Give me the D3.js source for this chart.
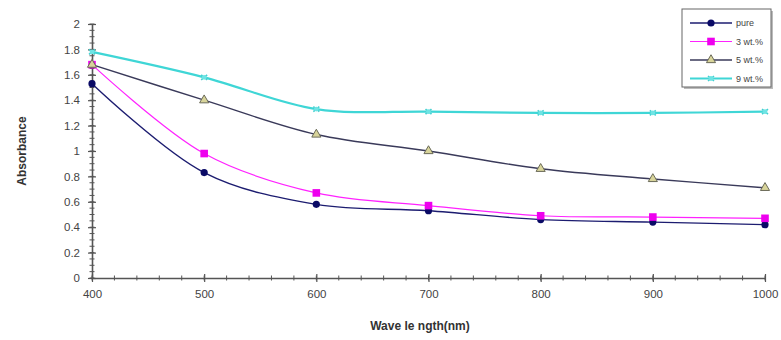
<!DOCTYPE html>
<html>
<head>
<meta charset="utf-8">
<script src="https://cdn.jsdelivr.net/npm/d3@7"></script>
<style>
  html, body { margin: 0; padding: 0; background: #fff; }
  svg { display: block; font-family: Arial, "Liberation Sans", sans-serif; }
</style>
</head>
<body>
<svg id="chart" width="781" height="340"></svg>
<script>
// Absorbance spectra for the pure film and the doped samples
const wavelengths = [400, 500, 600, 700, 800, 900, 1000];
const pure  = [1.53, 0.83, 0.58, 0.53, 0.46, 0.44, 0.42];
const wt3   = [1.68, 0.98, 0.67, 0.57, 0.49, 0.48, 0.47];
const wt5   = [1.68, 1.40, 1.13, 1.00, 0.86, 0.78, 0.71];
const wt9   = [1.78, 1.58, 1.33, 1.31, 1.30, 1.30, 1.31];
const seriesNames = ["pure", "3 wt.%", "5 wt.%", "9 wt.%"];
const xTicks = [400, 500, 600, 700, 800, 900, 1000];
const yTicks = [0, 0.2, 0.4, 0.6, 0.8, 1, 1.2, 1.4, 1.6, 1.8, 2];

const series = [
  { name: seriesNames[0], values: pure, line: "#1c1c70", width: 1.4, marker: "circle",   fill: "#0a0a66", stroke: "#0a0a66" },
  { name: seriesNames[1], values: wt3,  line: "#ff22ff", width: 1.2, marker: "square",   fill: "#ee00ee", stroke: "#ee00ee" },
  { name: seriesNames[2], values: wt5,  line: "#3a3a5a", width: 1.4, marker: "triangle", fill: "#d8d49a", stroke: "#6a6a58" },
  { name: seriesNames[3], values: wt9,  line: "#3fd6d6", width: 2.2, marker: "cross",    fill: "#6fe4e4", stroke: "#44d0d0" }
];

const svg = d3.select("#chart");
const x = d3.scaleLinear().domain([400, 1000]).range([92, 765]);
const y = d3.scaleLinear().domain([0, 2]).range([278, 24]);

// minor ticks
const axisCol = "#555";
const g = svg.append("g");
g.selectAll("line.ymin").data(d3.range(0, 2.0001, 0.05)).join("line")
  .attr("x1", x(400) - 2.5).attr("x2", x(400) + 2.5)
  .attr("y1", d => y(d)).attr("y2", d => y(d))
  .attr("stroke", axisCol).attr("stroke-width", 1);
g.selectAll("line.xmin").data(d3.range(400, 1000.001, 20)).join("line")
  .attr("x1", d => x(d)).attr("x2", d => x(d))
  .attr("y1", y(0) - 2.5).attr("y2", y(0) + 2.5)
  .attr("stroke", axisCol).attr("stroke-width", 1);

// axes
const yAxis = d3.axisLeft(y).tickValues(yTicks).tickFormat(d3.format("~g")).tickSizeInner(4).tickSizeOuter(0).tickPadding(8);
const xAxis = d3.axisBottom(x).tickValues(xTicks).tickFormat(d3.format("d")).tickSizeInner(4).tickSizeOuter(0).tickPadding(8);

const ya = svg.append("g").attr("transform", `translate(${x(400)},0)`).call(yAxis);
const xa = svg.append("g").attr("transform", `translate(0,${y(0)})`).call(xAxis);
[ya, xa].forEach(a => {
  a.select(".domain").attr("stroke", axisCol).attr("stroke-width", 1.6);
  a.selectAll(".tick line").attr("stroke", axisCol).attr("stroke-width", 1.2);
  a.selectAll(".tick text").attr("fill", "#444").attr("font-size", 11.5).attr("font-family", "Arial, 'Liberation Sans', sans-serif");
});
ya.selectAll(".tick line").attr("x2", 4).attr("x1", -4);
xa.selectAll(".tick line").attr("y1", -4).attr("y2", 4);

// axis titles
svg.append("text").attr("transform", `translate(26,151) rotate(-90)`)
  .attr("text-anchor", "middle").attr("font-size", 12).attr("font-weight", "bold").attr("fill", "#333")
  .text("Absorbance");
svg.append("text").attr("x", 420).attr("y", 330)
  .attr("text-anchor", "middle").attr("font-size", 12).attr("font-weight", "bold").attr("fill", "#333")
  .text("Wave le ngth(nm)");

// smoothed series lines
const line = d3.line().x(d => x(d[0])).y(d => y(d[1])).curve(d3.curveCatmullRom.alpha(0.5));

function drawMarker(sel, s) {
  if (s.marker === "circle") {
    sel.append("circle").attr("r", 3.6).attr("fill", s.fill);
  } else if (s.marker === "square") {
    sel.append("rect").attr("x", -3.8).attr("y", -3.8).attr("width", 7.6).attr("height", 7.6).attr("fill", s.fill);
  } else if (s.marker === "triangle") {
    sel.append("path").attr("d", d3.symbol(d3.symbolTriangle, 36)()).attr("fill", s.fill)
      .attr("stroke", s.stroke).attr("stroke-width", 1);
  } else {
    sel.append("path").attr("d", "M-3,-2.5L3,2.5M-3,2.5L3,-2.5").attr("stroke", s.stroke).attr("stroke-width", 1.6);
    sel.append("circle").attr("r", 2.4).attr("fill", s.fill);
  }
}

series.forEach(s => {
  const pts = wavelengths.map((w, i) => [w, s.values[i]]);
  svg.append("path").datum(pts).attr("d", line)
    .attr("fill", "none").attr("stroke", s.line).attr("stroke-width", s.width);
  pts.forEach(p => {
    const m = svg.append("g").attr("transform", `translate(${x(p[0])},${y(p[1])})`);
    drawMarker(m, s);
  });
});

// legend
const lg = svg.append("g").attr("transform", "translate(682,9)");
lg.append("rect").attr("x", 2).attr("y", 2).attr("width", 89).attr("height", 78).attr("fill", "#bbb");
lg.append("rect").attr("width", 89).attr("height", 78).attr("fill", "#fff").attr("stroke", "#666").attr("stroke-width", 1);
series.forEach((s, i) => {
  const ry = 14 + i * 18.5;
  lg.append("line").attr("x1", 8).attr("x2", 50).attr("y1", ry).attr("y2", ry)
    .attr("stroke", s.line).attr("stroke-width", s.width);
  const m = lg.append("g").attr("transform", `translate(29,${ry})`);
  drawMarker(m, s);
  lg.append("text").attr("x", 54).attr("y", ry + 3).attr("font-size", 9).attr("fill", "#444").text(s.name);
});
</script>
</body>
</html>
